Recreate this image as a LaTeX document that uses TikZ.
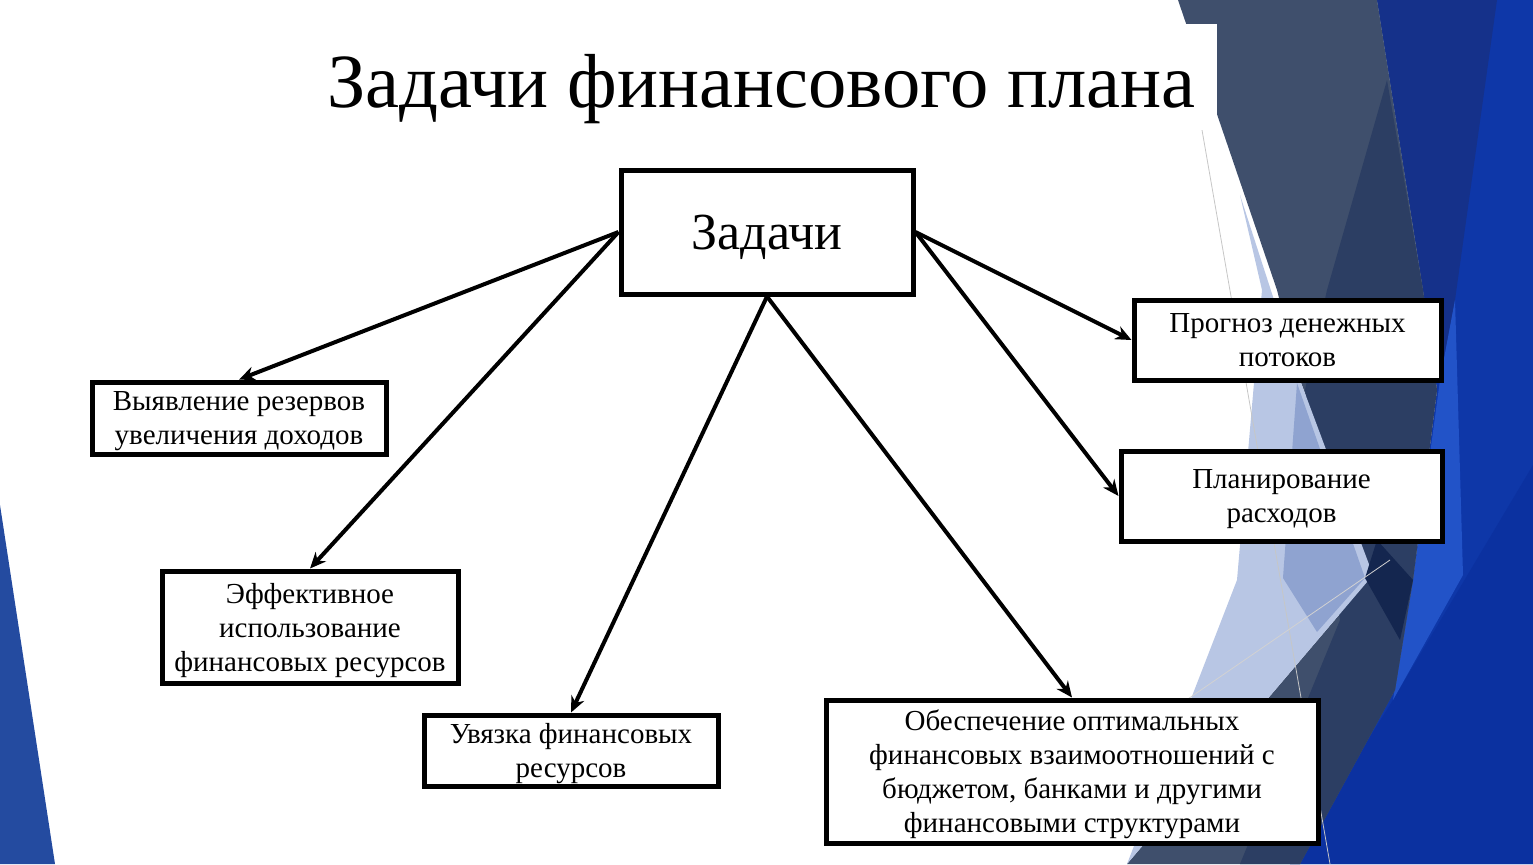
\documentclass[tikz,border=0pt]{standalone}
\usepackage{fontspec}
\setmainfont{Liberation Serif}
\usetikzlibrary{arrows.meta}

\definecolor{stripblue}{HTML}{244BA0}
\definecolor{facetblue}{HTML}{0E37A8}
\definecolor{facetdeepblue}{HTML}{0B31A0}
\definecolor{facetnavy}{HTML}{15318A}
\definecolor{facetbright}{HTML}{2253C8}
\definecolor{facetslate}{HTML}{3F4F6C}
\definecolor{facetdark}{HTML}{2C3E63}
\definecolor{facetdeep}{HTML}{14264F}
\definecolor{facetlight}{HTML}{B8C6E4}
\definecolor{facetmid}{HTML}{8FA3D0}

\tikzset{task/.style={draw=black,line width=2.5pt,fill=white,align=center,inner sep=0pt,
    text depth=0pt,font=\fontsize{14.5}{17}\selectfont}}

\begin{document}
\begin{tikzpicture}[x=0.5pt,y=-0.5pt,->,>={Stealth[length=8pt,width=7pt]},line width=2pt]
                \useasboundingbox (0,0) rectangle (1533,864);
                % background facets
                \fill[stripblue] (0,505) -- (55,864) -- (0,864) -- cycle;
                \fill[facetblue] (1377,0) -- (1533,0) -- (1533,864) -- (1290,864) -- (1395,690)
                    -- (1413,580) -- (1437,390) -- (1423,290) -- cycle;
                \fill[facetdeepblue] (1533,465) -- (1533,864) -- (1290,864) -- (1393,700) -- cycle;
                \fill[facetnavy] (1377,0) -- (1497,0) -- (1455,300) -- (1440,380) -- (1423,290) -- cycle;
                \fill[facetbright] (1440,380) -- (1455,300) -- (1463,575) -- (1393,700) -- (1413,580) -- cycle;
                \fill[facetslate] (1178,0) -- (1377,0) -- (1423,290) -- (1437,390) -- (1413,580)
                    -- (1395,690) -- (1300,864) -- (1127,864) -- (1373,575) -- (1300,380) -- (1277,290) -- cycle;
                \fill[facetdark] (1387,80) -- (1423,290) -- (1437,390) -- (1413,580) -- (1395,690)
                    -- (1300,864) -- (1240,864) -- (1340,620) -- (1305,390) -- (1327,290) -- cycle;
                \fill[facetlight] (1240,195) -- (1300,380) -- (1373,575) -- (1127,864) -- (1237,580)
                    -- (1262,290) -- cycle;
                \fill[facetmid] (1297,383) -- (1365,578) -- (1317,632) -- (1283,578) -- cycle;
                \fill[facetdeep] (1377,540) -- (1413,580) -- (1400,640) -- (1365,578) -- cycle;
                \draw[-,gray!45,line width=0.4pt] (1202,130) -- (1330,864);
                \draw[-,gray!35,line width=0.4pt] (1150,725) -- (1390,560);
                \fill[white] (330,24) rectangle (1217,130);

                \node[anchor=base,font=\fontsize{38.3}{46}\selectfont](title)at(761.5, 107){Задачи финансового плана};

                \node[task,minimum width=146pt,minimum height=62pt,font=\fontsize{26}{30}\selectfont](zadachi)at(767, 232){Задачи};
                \node[task,minimum width=147pt,minimum height=36pt](rezervy)at(239, 418){Выявление резервов\\увеличения доходов};
                \node[task,minimum width=148pt,minimum height=56pt](resursy)at(310, 627){Эффективное\\использование\\финансовых ресурсов};
                \node[task,minimum width=147pt,minimum height=35.5pt](uvyazka)at(571, 750.5){Увязка финансовых\\ресурсов};
                \node[task,minimum width=246pt,minimum height=71.5pt](otnosh)at(1072, 771.5){Обеспечение оптимальных\\финансовых взаимоотношений с\\бюджетом, банками и другими\\финансовыми структурами};
                \node[task,minimum width=153.5pt,minimum height=40pt](prognoz)at(1287.5, 340){Прогноз денежных\\потоков};
                \node[task,minimum width=160.5pt,minimum height=45pt](rashody)at(1281.5, 496){Планирование\\расходов};

                \path[] (zadachi.west) edge (rezervy.north)
                (zadachi.west) edge (resursy.north)
                (zadachi.south) edge (uvyazka.north)
                (zadachi.south) edge (otnosh.north)
                (zadachi.east) edge (prognoz.west)
                (zadachi.east) edge (rashody.west);
\end{tikzpicture}
\end{document}
